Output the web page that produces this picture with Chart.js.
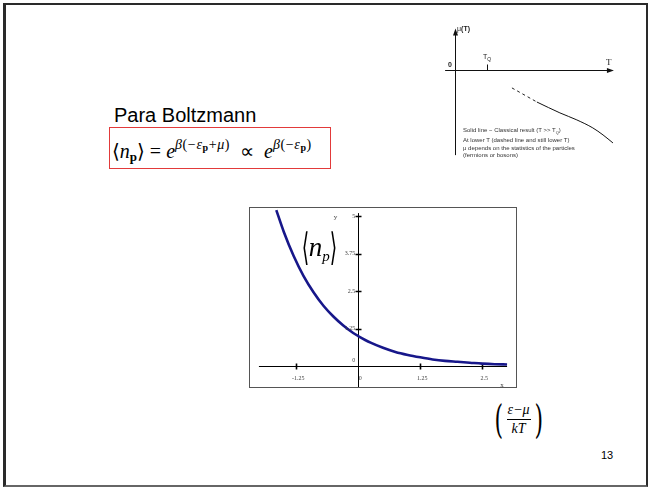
<!DOCTYPE html>
<html lang="en">
<head>
<meta charset="UTF-8">
<title>Para Boltzmann</title>
<script src="https://cdn.jsdelivr.net/npm/chart.js"></script>
<style>
  * { margin: 0; padding: 0; box-sizing: border-box; }
  body {
    width: 650px; height: 488px; background: #fff;
    position: relative; overflow: hidden;
    font-family: 'Liberation Sans', Arial, sans-serif; color: #000;
  }
  .frame {
    position: absolute; left: 3px; top: 3px; width: 645px; height: 484px;
    border: 2px solid #2a2a2a; border-left-width: 3px; border-bottom-color: #666;
  }
  .title { position: absolute; left: 114px; top: 104px; font-size: 20px; }
  .formula {
    position: absolute; left: 109px; top: 127px; width: 222px; height: 42px;
    border: 1.5px solid #e23a3a;
    font-family: 'Liberation Serif', serif; font-size: 20px;
    padding: 9px 0 0 2px; white-space: nowrap;
  }
  .formula sup { font-size: 14px; vertical-align: 9px; letter-spacing: 0.6px; }
  .formula sup sub { font-size: 10px; vertical-align: -2px; font-weight: bold; font-style: normal; }
  .formula > sub { font-size: 13px; font-weight: bold; vertical-align: -3px; }
  .formula .gap { display: inline-block; width: 10px; }
  .ang { font-family: 'DejaVu Serif', serif; font-weight: normal; }
  .plot {
    position: absolute; left: 249px; top: 207px; width: 268px; height: 181px;
    border: 1px solid #555; background: #fff;
  }
  .plot canvas { position: absolute; left: 0; top: 0; }
  .np {
    position: absolute; left: 302px; top: 225px;
    font-family: 'Liberation Serif', serif; white-space: nowrap;
  }
  .np .big { font-size: 38px; display: inline-block; transform: scaleX(0.5); vertical-align: middle; margin: 0 -4px; }
  .np i { font-size: 27px; vertical-align: middle; }
  .np sub { font-size: 15px; font-style: italic; vertical-align: -10px; }
  .frac {
    position: absolute; left: 491px; top: 396px; display: flex; align-items: center;
    font-family: 'Liberation Serif', serif; font-style: italic; font-size: 14px;
  }
  .frac .par { font-style: normal; font-size: 40px; transform: scaleX(0.55); font-family: 'DejaVu Serif', serif; }
  .frac .col { display: flex; flex-direction: column; align-items: center; }
  .frac .num { border-bottom: 1px solid #000; padding: 0 1px 1px; }
  .frac .den { padding-top: 1px; }
  .page { position: absolute; left: 601px; top: 449px; font-size: 11px; }
  .inset { position: absolute; left: 440px; top: 22px; }
  .it { position: absolute; font-size: 7px; color: #222; white-space: nowrap; }
  .note { position: absolute; left: 463px; top: 127px; font-size: 6px; line-height: 7.7px; color: #333; white-space: nowrap; }
</style>
</head>
<body>
<div class="frame"></div>

<div class="title">Para Boltzmann</div>
<div class="formula"><span class="ang">⟨</span><i>n</i><sub>p</sub><span class="ang">⟩</span> = <i>e</i><sup><i>β</i>(−<i>ε</i><sub>p</sub>+<i>μ</i>)</sup><span class="gap"></span>∝<span class="gap"></span><i>e</i><sup><i>β</i>(−<i>ε</i><sub>p</sub>)</sup></div>

<canvas class="inset" id="inset" width="180" height="140"></canvas>
<div class="it" style="left:457px; top:25px;">μ<b>(T)</b></div>
<div class="it" style="left:448px; top:61px; font-weight:bold;">0</div>
<div class="it" style="left:483px; top:53px;">T<sub style="font-size:5px;">Q</sub></div>
<div class="it" style="left:606px; top:57px; font-family:'Liberation Serif',serif; font-size:9px;">T</div>
<div class="note">Solid line − Classical result (T &gt;&gt; T<sub style="font-size:4px;">Q</sub>)<br>At lower T (dashed line and still lower T)<br>μ depends on the statistics of the particles<br>(fermions or bosons)</div>

<div class="plot"><canvas id="main" width="266" height="179"></canvas></div>
<div class="np"><span class="big ang">⟨</span><i>n</i><sub>p</sub><span class="big ang">⟩</span></div>

<div class="frac"><span class="par">(</span><div class="col"><span class="num">ε−μ</span><span class="den">kT</span></div><span class="par">)</span></div>
<div class="page">13</div>

<script>
  // main plot: <n_p> against (eps - mu)/kT
  const energy = [-1.65, -1.5, -1.3, -1.1, -0.9, -0.7, -0.5, -0.3, -0.1, 0, 0.25, 0.5, 0.75, 1, 1.25, 1.5, 1.75, 2, 2.25, 2.5, 2.75, 3];
  const occupancy = [5.2, 4.48, 3.67, 3.0, 2.46, 2.01, 1.65, 1.35, 1.1, 1.0, 0.78, 0.61, 0.47, 0.37, 0.29, 0.22, 0.17, 0.14, 0.11, 0.08, 0.06, 0.05];
  const xTicks = [-1.25, 0, 1.25, 2.5];
  const yTicks = [0, 1.25, 2.5, 3.75, 5];

  // inset: mu(T)
  const dashT = [1.78, 2.56];
  const dashMu = [-0.56, -1.0];
  const solidT = [2.56, 3.28, 3.81, 4.31, 4.63, 4.94];
  const solidMu = [-1.0, -1.34, -1.56, -1.81, -2.03, -2.28];
  const tq = 1;

  const pairs = (xs, ys) => xs.map((v, i) => ({ x: v, y: ys[i] }));

  const mainAxes = {
    id: 'mainAxes',
    beforeDatasetsDraw(chart) {
      const { ctx, scales: { x, y } } = chart;
      const ox = Math.round(x.getPixelForValue(0)) + 0.5;
      const oy = Math.round(y.getPixelForValue(0)) + 0.5;
      ctx.save();
      ctx.strokeStyle = '#000';
      ctx.lineWidth = 1;
      ctx.beginPath();
      ctx.moveTo(x.getPixelForValue(-2), oy);
      ctx.lineTo(x.getPixelForValue(3), oy);
      ctx.moveTo(ox, y.getPixelForValue(5.1));
      ctx.lineTo(ox, chart.height);
      ctx.stroke();
      ctx.lineWidth = 1.6;
      ctx.beginPath();
      xTicks.filter(v => v !== 0).forEach(v => {
        const px = Math.round(x.getPixelForValue(v)) + 0.5;
        ctx.moveTo(px, oy - 3); ctx.lineTo(px, oy + 3);
      });
      yTicks.filter(v => v !== 0).forEach(v => {
        const py = Math.round(y.getPixelForValue(v)) + 0.5;
        ctx.moveTo(ox - 3, py); ctx.lineTo(ox + 3, py);
      });
      ctx.stroke();
      ctx.restore();
    },
    afterDraw(chart) {
      const { ctx, scales: { x, y } } = chart;
      const ox = x.getPixelForValue(0), oy = y.getPixelForValue(0);
      ctx.save();
      ctx.fillStyle = '#444';
      ctx.font = '6px "Liberation Serif", serif';
      ctx.textBaseline = 'middle';
      ctx.textAlign = 'center';
      xTicks.forEach(v => ctx.fillText(String(v), x.getPixelForValue(v) + 2, oy + 12));
      ctx.textAlign = 'right';
      yTicks.forEach(v => {
        const py = v === 0 ? oy - 6 : y.getPixelForValue(v);
        ctx.fillText(String(v), ox - 3, py);
      });
      ctx.font = '7px "Liberation Serif", serif';
      ctx.fillText('y', ox - 21, y.getPixelForValue(5) + 1);
      ctx.textAlign = 'center';
      ctx.fillText('x', x.getPixelForValue(2.9), chart.height - 2);
      ctx.restore();
    }
  };

  new Chart(document.getElementById('main'), {
    type: 'scatter',
    data: {
      datasets: [{
        data: pairs(energy, occupancy),
        showLine: true,
        borderColor: '#17178a',
        borderWidth: 2.6,
        pointRadius: 0,
        cubicInterpolationMode: 'monotone'
      }]
    },
    options: {
      responsive: false,
      animation: false,
      layout: { padding: 0 },
      plugins: { legend: { display: false }, tooltip: { enabled: false } },
      scales: {
        x: { type: 'linear', min: -2.18, max: 3.18, display: false },
        y: { type: 'linear', min: -0.7, max: 5.27, display: false }
      }
    },
    plugins: [mainAxes]
  });

  const insetAxes = {
    id: 'insetAxes',
    beforeDatasetsDraw(chart) {
      const { ctx, scales: { x, y } } = chart;
      const ox = Math.round(x.getPixelForValue(0)) + 0.5;
      const oy = Math.round(y.getPixelForValue(0)) + 0.5;
      const xEnd = x.getPixelForValue(4.97), yTop = y.getPixelForValue(1.3);
      ctx.save();
      ctx.strokeStyle = '#111';
      ctx.fillStyle = '#111';
      ctx.lineWidth = 1;
      ctx.beginPath();
      ctx.moveTo(x.getPixelForValue(-0.31), oy); ctx.lineTo(xEnd - 4, oy);
      ctx.moveTo(ox, y.getPixelForValue(-2.66)); ctx.lineTo(ox, yTop + 4);
      const tx = Math.round(x.getPixelForValue(tq)) + 0.5;
      ctx.moveTo(tx, oy); ctx.lineTo(tx, oy - 6);
      ctx.stroke();
      ctx.beginPath();
      ctx.moveTo(xEnd, oy); ctx.lineTo(xEnd - 7, oy - 2.5); ctx.lineTo(xEnd - 7, oy + 2.5); ctx.closePath();
      ctx.moveTo(ox, yTop); ctx.lineTo(ox - 2.5, yTop + 7); ctx.lineTo(ox + 2.5, yTop + 7); ctx.closePath();
      ctx.fill();
      ctx.restore();
    }
  };

  new Chart(document.getElementById('inset'), {
    type: 'scatter',
    data: {
      datasets: [
        { data: pairs(dashT, dashMu), showLine: true, borderColor: '#222', borderWidth: 1, borderDash: [3, 3], pointRadius: 0 },
        { data: pairs(solidT, solidMu), showLine: true, borderColor: '#111', borderWidth: 1, pointRadius: 0, cubicInterpolationMode: 'monotone' }
      ]
    },
    options: {
      responsive: false,
      animation: false,
      layout: { padding: 0 },
      plugins: { legend: { display: false }, tooltip: { enabled: false } },
      scales: {
        x: { type: 'linear', min: -0.47, max: 5.16, display: false },
        y: { type: 'linear', min: -2.875, max: 1.5, display: false }
      }
    },
    plugins: [insetAxes]
  });
</script>
</body>
</html>
